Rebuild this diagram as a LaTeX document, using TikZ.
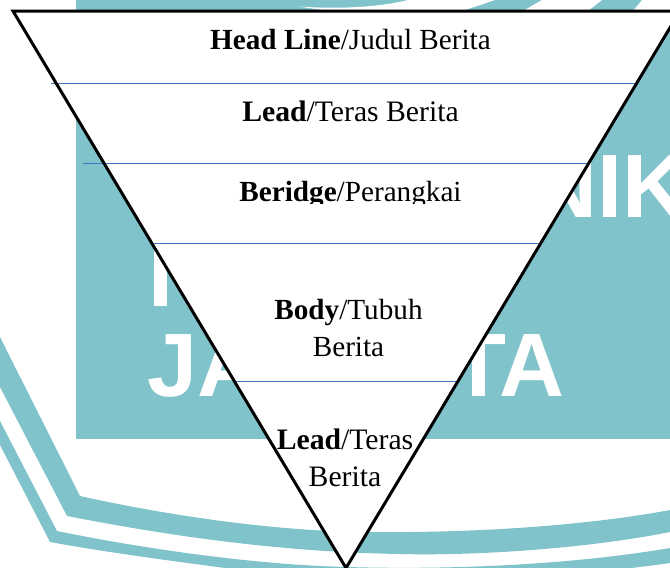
\documentclass[tikz,border=0pt]{standalone}
\usepackage{fontspec}
\setmainfont{Liberation Serif}
\newfontfamily\wmfont{Liberation Sans}
\definecolor{wmteal}{HTML}{80C3CA}
\definecolor{rulecol}{HTML}{4472C4}
\tikzset{
  lbl/.style={anchor=base,inner sep=0pt,text=black,font=\fontsize{29.2}{34}\selectfont},
  lblwide/.style={lbl,font=\fontsize{29.7}{34}\selectfont},
  wm/.style={inner sep=0pt,text=white,font=\wmfont\bfseries\fontsize{90}{90}\selectfont},
  rulerline/.style={draw=rulecol,line width=1.1pt},
  funnel/.style={draw=black,line width=3pt,miter limit=10,line join=miter}
}
\begin{document}
\begin{tikzpicture}[x=1pt,y=-1pt]
\useasboundingbox (0,0) rectangle (670,568);
\begin{scope}
\clip (0,0) rectangle (670,568);
% background
\fill[wmteal] (76,0) rectangle (670,439);
\fill[white] (298,6.5) .. controls (335,9) and (375,8) .. (408,0) -- (495,0) -- (462,11) -- (330,11) -- cycle;
\fill[white] (542,0) -- (602,0) -- (588,11) -- (523,11) -- cycle;
\fill[white] (642,0) -- (670,0) -- (670,11) -- (633,11) -- cycle;
\node[wm,anchor=base west] (wmni) at (532,217) {NIK};
\node[wm,anchor=base] (wmi) at (161,306) {I};
\node[wm,anchor=base west] (wmja) at (147,396) {JA};
\node[wm,anchor=base east] (wmta) at (565,396) {TA};
% bands
\fill[wmteal] (0,337) -- (80,496) .. controls (170,516) and (280,532) .. (373,532)
  .. controls (480,533) and (590,525) .. (670,510) -- (670,532)
  .. controls (590,548) and (480,556) .. (400,554) .. controls (280,552) and (170,536) .. (67,516) -- (0,387) -- cycle;
\fill[wmteal] (0,421) -- (57,531) .. controls (150,550) and (260,565) .. (347,567)
  .. controls (450,570) and (570,565) .. (670,548) -- (670,563)
  .. controls (650,566) and (630,568) .. (615,570) -- (240,570) .. controls (180,562) and (110,553) .. (50,542) -- (0,445) -- cycle;
% funnel
\coordinate (tl) at (13,11);
\coordinate (tr) at (680,11);
\coordinate (apex) at (346,568);
\fill[white] (tl) -- (tr) -- (apex) -- cycle;
% rules
\coordinate (r1a) at (51,83.5);  \coordinate (r1b) at (637,83.5);
\coordinate (r2a) at (83,163.5); \coordinate (r2b) at (589,163.5);
\coordinate (r3a) at (153,243.5);\coordinate (r3b) at (540,243.5);
\coordinate (r4a) at (235,381.5);\coordinate (r4b) at (460,381.5);
\draw[rulerline] (r1a) -- (r1b);
\draw[rulerline] (r2a) -- (r2b);
\draw[rulerline] (r3a) -- (r3b);
\draw[rulerline] (r4a) -- (r4b);
\draw[funnel] (tl) -- (tr) -- (apex) -- cycle;
% labels
\node[lbl] (head) at (350.5,49) {\textbf{Head Line}/Judul Berita};
\node[lblwide] (lead) at (350.5,121) {\textbf{Lead}/Teras Berita};
\begin{scope}
\clip (200,170) rectangle (500,203);
\node[lbl] (beridge) at (350.5,201) {\textbf{Beridge}/Perangkai};
\end{scope}
\node[lbl] (bodya) at (348.5,319) {\textbf{Body}/Tubuh};
\node[lbl] (bodyb) at (348.5,356) {Berita};
\node[lblwide] (leadb) at (345,449) {\textbf{Lead}/Teras};
\node[lblwide] (leadc) at (345,486) {Berita};
\end{scope}
\end{tikzpicture}
\end{document}
